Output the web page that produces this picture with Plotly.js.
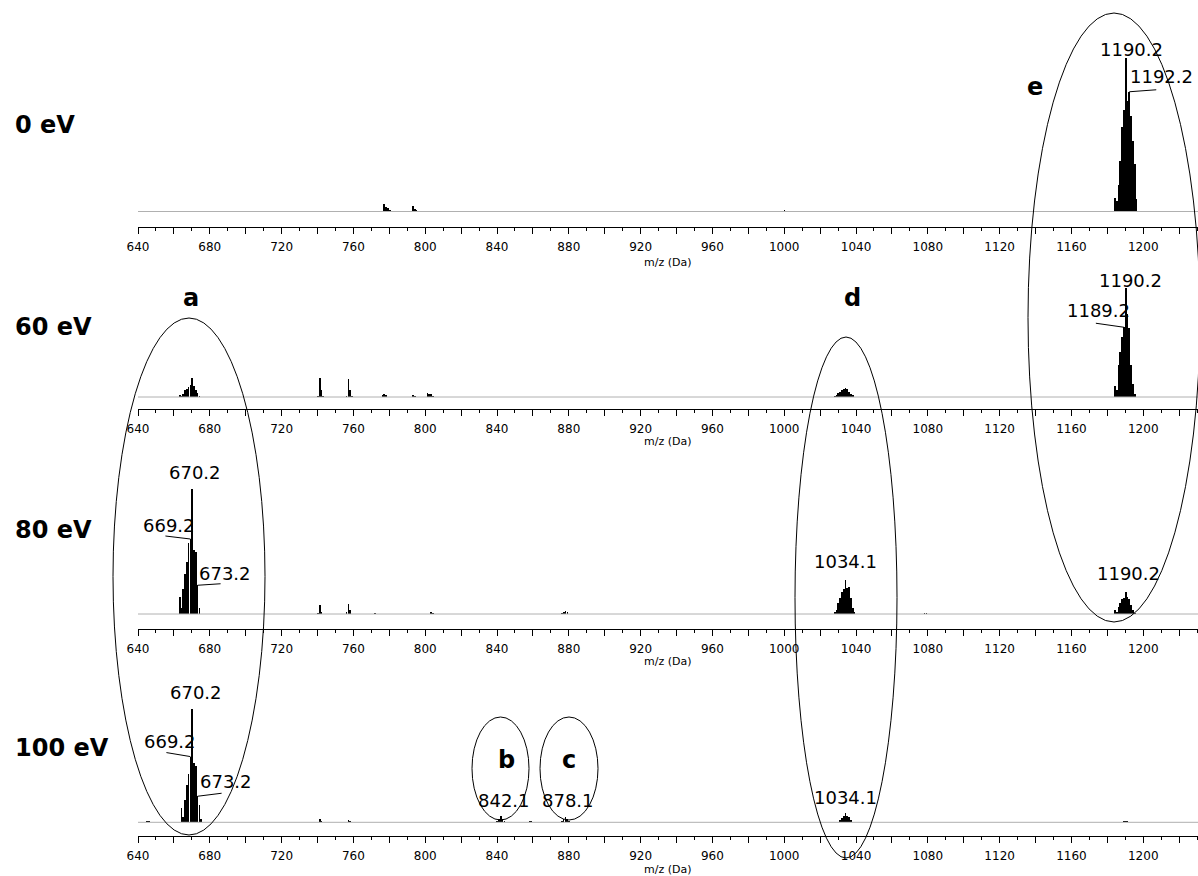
<!DOCTYPE html>
<html><head><meta charset="utf-8">
<script src="https://cdn.plot.ly/plotly-3.0.1.min.js"></script>
<style>html,body{margin:0;padding:0;background:#fff}#chart{width:1198px;height:876px}</style>
</head><body><div id="chart"></div>
<script>
// ---------------- DATA ----------------
const panelNames = ['0 eV', '60 eV', '80 eV', '100 eV'];

// 0 eV
const mz0  = [683.2, 684.2, 777.2, 778.2, 779.2, 780.2, 781.2, 793.2, 794.2, 795.2, 1000.2, 1001.2,
              1184.2, 1185.2, 1186.2, 1187.2, 1188.2, 1189.2, 1190.2, 1191.2, 1192.2, 1193.2, 1194.2, 1195.2, 1196.2];
const int0 = [0.5, 0.4, 4.6, 3.2, 2.0, 1.2, 0.6, 3.7, 1.5, 0.8, 0.8, 0.6,
              9, 7, 17, 33, 55, 66, 100, 72, 78, 62, 46, 31, 8];

// 60 eV
const mz60  = [663.2, 664.2, 665.2, 666.2, 667.2, 668.2, 669.2, 670.2, 671.2, 672.2, 673.2, 674.2,
               740.2, 741.2, 742.2, 743.2, 756.2, 757.2, 758.2, 759.2, 776.2, 777.2, 778.2, 793.2, 794.2,
               801.2, 802.2, 803.2, 804.2,
               1028.1, 1029.1, 1030.1, 1031.1, 1032.1, 1033.1, 1034.1, 1035.1, 1036.1, 1037.1, 1038.1,
               1184.2, 1185.2, 1186.2, 1187.2, 1188.2, 1189.2, 1190.2, 1191.2, 1192.2, 1193.2, 1194.2, 1195.2];
const int60 = [2, 0.5, 3, 6, 7.6, 9, 10.7, 17.8, 10, 6.7, 3.7, 1,
               1, 17.8, 6.7, 1, 1, 16.6, 6.7, 1, 1.5, 3, 1.5, 2, 1,
               3.7, 2.5, 2.5, 1,
               1, 2, 4, 5, 6.5, 7, 8, 7, 5, 3, 1.5,
               10, 6, 29, 41, 55, 64, 100, 76, 63, 29, 12, 3];

// 80 eV
const mz80  = [663.2, 664.2, 665.2, 666.2, 667.2, 668.2, 669.2, 670.2, 671.2, 672.2, 673.2, 674.2,
               740.2, 741.2, 742.2, 756.2, 757.2, 758.2, 772.2, 803.2, 804.2,
               876.2, 877.2, 878.2, 879.2, 1078.2, 1079.2,
               1028.1, 1029.1, 1030.1, 1031.1, 1032.1, 1033.1, 1034.1, 1035.1, 1036.1, 1037.1, 1038.1, 1039.1,
               1184.2, 1185.2, 1186.2, 1187.2, 1188.2, 1189.2, 1190.2, 1191.2, 1192.2, 1193.2, 1194.2, 1195.2];
const int80 = [14, 5, 20, 32, 42, 57, 60, 100, 51, 50, 23, 5,
               1, 7, 2, 1.5, 7.7, 3, 1, 2, 1,
               1, 2, 2.4, 1.5, 1, 1,
               2, 3, 9, 13, 18, 20, 27, 21, 22, 13, 5, 2,
               3, 2, 6, 9, 12, 13, 18, 14, 12, 7, 3, 1];

// 100 eV
const mz100  = [645.2, 646.2,
                664.2, 665.2, 666.2, 667.2, 668.2, 669.2, 670.2, 671.2, 672.2, 673.2, 674.2, 675.2,
                741.2, 742.2, 757.2, 758.2,
                840.1, 841.1, 842.1, 843.1, 844.1, 858.2, 859.2,
                876.1, 877.1, 878.1, 879.1, 880.1,
                1031.1, 1032.1, 1033.1, 1034.1, 1035.1, 1036.1, 1037.1,
                1189.2, 1190.2, 1191.2];
const int100 = [0.8, 1,
                13, 5, 20, 33, 43, 58, 100, 52, 50, 23, 15, 3,
                2.7, 1, 1.8, 1,
                1.5, 3, 5.5, 3, 1.5, 1, 1,
                1.5, 3, 5, 3, 1.5,
                2, 4, 6, 8, 6, 5, 2,
                1, 1.5, 1];

const panelMz  = [mz0, mz60, mz80, mz100];
const panelInt = [int0, int60, int80, int100];

// peak labels
const labelPanel = [0, 0, 1, 1, 2, 2, 2, 2, 2, 3, 3, 3, 3, 3, 3];
const labelText  = ['1190.2', '1192.2', '1190.2', '1189.2', '670.2', '669.2', '673.2', '1034.1', '1190.2',
                    '670.2', '669.2', '673.2', '842.1', '878.1', '1034.1'];
const labelMz    = [1190.2, 1192.2, 1190.2, 1189.2, 670.2, 669.2, 673.2, 1034.1, 1190.2,
                    670.2, 669.2, 673.2, 842.1, 878.1, 1034.1];

// axis ticks
const tickVals = [640,660,680,700,720,740,760,780,800,820,840,860,880,900,920,940,960,980,1000,
                  1020,1040,1060,1080,1100,1120,1140,1160,1180,1200,1220];
const tickText = ['640','','680','','720','','760','','800','','840','','880','','920','','960','','1000',
                  '','1040','','1080','','1120','','1160','','1200',''];
const axisTitle = 'm/z (Da)';

// group letters
const groupLetters = ['a', 'b', 'c', 'd', 'e'];

// ---------------- LAYOUT GEOMETRY (pixels) ----------------
const W = 1198, H = 876, ML = 138;
const geo = [
  {base: 211.5, axis: 227, peak: 58,  top: 40,  title: 262},
  {base: 397,   axis: 409, peak: 288, top: 270, title: 441},
  {base: 614,   axis: 629, peak: 489, top: 455, title: 661},
  {base: 822.3, axis: 836, peak: 709, top: 675, title: 869}
];
// label offsets: [dx, dyUp] of text centre, and leader end [lx, lyUp] (null = no leader)
const labelOff = [
  [6, 9, null], [32, 15, [27, 2]],
  [5, 8, null], [-25, 17, [-28, 4]],
  [3, 17, null], [-21, 14, [-25, 3]], [27, 12, [23, 1.5]], [0, 19, null], [3, 18, null],
  [4, 17, null], [-20, 15, [-24, 4]], [28, 15, [24, 3]], [3, 16, null], [3, 16, null], [0, 16, null]
];
const px2x = p => (p - ML) / (W - ML);
const py2y = p => 1 - p / H;

const FONT = 'DejaVu Sans, Verdana, sans-serif';
const traces = [];
const layout = {
  width: W, height: H,
  margin: {l: ML, r: 0, t: 0, b: 0},
  paper_bgcolor: '#fff', plot_bgcolor: 'rgba(0,0,0,0)',
  showlegend: false, bargap: 0,
  font: {family: FONT, color: '#000'},
  annotations: [], shapes: []
};

geo.forEach((g, i) => {
  const n = i === 0 ? '' : String(i + 1);
  const s = (g.base - g.peak) / 100;
  layout['yaxis' + n] = {
    domain: [py2y(g.axis), py2y(g.top)],
    range: [-(g.axis - g.base) / s, (g.base - g.top) / s],
    visible: false, fixedrange: true
  };
  layout['xaxis' + n] = {
    domain: [0, 1], range: [640, 1230.5], anchor: 'y' + n,
    showline: true, linecolor: '#000', linewidth: 1, mirror: false,
    ticks: 'outside', ticklen: 6, tickwidth: 1, tickcolor: '#000',
    tickmode: 'array', tickvals: tickVals, ticktext: tickText,
    ticklabelstandoff: 3,
    tickfont: {family: FONT, size: 12, color: '#000'},
    minor: {ticks: 'outside', ticklen: 3, tickcolor: '#000', tickmode: 'linear', tick0: 640, dtick: 10, showgrid: false},
    showgrid: false, zeroline: false, fixedrange: true
  };
  layout.annotations.push({
    xref: 'paper', yref: 'paper', x: 0.5, y: py2y(g.title), xanchor: 'center', yanchor: 'middle',
    text: axisTitle, showarrow: false, font: {family: FONT, size: 11, color: '#000'}
  });
  // baseline
  traces.push({
    type: 'scatter', mode: 'lines', x: [640, 1230.5], y: [0, 0],
    xaxis: 'x' + n, yaxis: 'y' + n, line: {color: '#b0b0b0', width: 1}, hoverinfo: 'skip'
  });
  traces.push({
    type: 'bar', x: panelMz[i], y: panelInt[i], width: 0.97,
    xaxis: 'x' + n, yaxis: 'y' + n,
    marker: {color: '#000', line: {width: 0}}
  });
});

// panel names
const nameY = [125, 327, 530, 748];
panelNames.forEach((t, i) => {
  layout.annotations.push({
    xref: 'paper', yref: 'paper', x: px2x(13), y: py2y(nameY[i]), xanchor: 'left', yanchor: 'middle',
    text: '<b>' + t + '</b>', showarrow: false, font: {family: FONT, size: 24, color: '#000'}
  });
});

// peak labels + leaders
labelText.forEach((t, k) => {
  const p = labelPanel[k], n = p === 0 ? '' : String(p + 1);
  const idx = panelMz[p].indexOf(labelMz[k]);
  const yv = panelInt[p][idx];
  const o = labelOff[k];
  layout.annotations.push({
    xref: 'x' + n, yref: 'y' + n, x: labelMz[k], y: yv, xanchor: 'center', yanchor: 'middle',
    xshift: o[0], yshift: o[1], text: t, showarrow: false,
    font: {family: FONT, size: 18, color: '#000'}
  });
  if (o[2]) {
    layout.shapes.push({
      type: 'line', xref: 'x' + n, yref: 'y' + n, xsizemode: 'pixel', ysizemode: 'pixel',
      xanchor: labelMz[k], yanchor: yv, x0: 0, y0: 0, x1: o[2][0], y1: o[2][1],
      line: {color: '#000', width: 1}
    });
  }
});

// group ellipses (pixel boxes) and letters
const ellBox = [
  [113, 318, 265, 835],   // a
  [472, 717, 529, 820],   // b
  [540, 717, 598, 820],   // c
  [795, 337, 897, 858],   // d
  [1028, 13, 1200, 622]   // e
];
const letterPos = [[191, 298], [506, 760], [569, 760], [852, 298], [1035, 87]];
ellBox.forEach((b, k) => {
  layout.shapes.push({
    type: 'circle', xref: 'paper', yref: 'paper',
    x0: px2x(b[0]), x1: px2x(b[2]), y0: py2y(b[3]), y1: py2y(b[1]),
    line: {color: '#000', width: 1}, fillcolor: 'rgba(0,0,0,0)', layer: 'above'
  });
  layout.annotations.push({
    xref: 'paper', yref: 'paper', x: px2x(letterPos[k][0]), y: py2y(letterPos[k][1]),
    xanchor: 'center', yanchor: 'middle', showarrow: false,
    text: '<b>' + groupLetters[k] + '</b>', font: {family: FONT, size: 24, color: '#000'}
  });
});

Plotly.newPlot('chart', traces, layout, {displayModeBar: false, staticPlot: true});
</script>
</body></html>
